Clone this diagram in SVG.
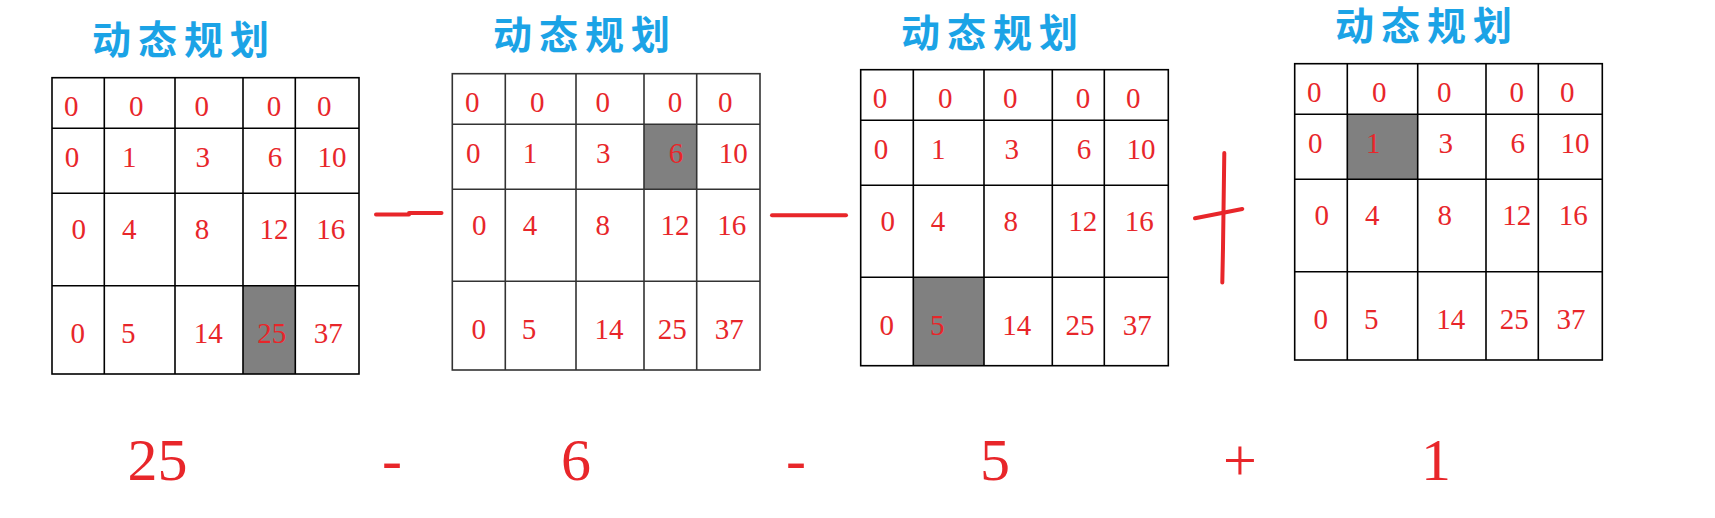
<svg xmlns="http://www.w3.org/2000/svg" width="1715" height="518" viewBox="0 0 1715 518">
<style>
.title{font-family:"Noto Sans CJK SC","Noto Sans",sans-serif;font-size:39px;fill:#1ba3e6;letter-spacing:7px;font-weight:bold}
.n{font-family:"Liberation Serif",serif;font-size:29px;fill:#e8262a;text-anchor:middle}
.big{font-family:"Liberation Serif",serif;font-size:60px;fill:#e8262a;text-anchor:middle}
.grid{fill:none;stroke:#000;stroke-width:1.6}
.grid2{fill:none;stroke:#333;stroke-width:1.6}
.hl{fill:#808080}
.op{fill:none;stroke:#e8262a;stroke-width:4;stroke-linecap:round;stroke-linejoin:round}
</style>
<rect width="1715" height="518" fill="#fff"/>

<g id="grid1">
<text class="title" x="92" y="54">动态规划</text>
<rect class="hl" x="243" y="285.7" width="52.3" height="88.3"/>
<rect class="grid" x="52" y="77.7" width="307" height="296.3"/>
<path class="grid" d="M104.3,77.7V374M175,77.7V374M243,77.7V374M295.3,77.7V374M52,128.3H359M52,193.3H359M52,285.7H359"/>
<text class="n" x="71.3" y="116">0</text><text class="n" x="136.3" y="116">0</text><text class="n" x="201.7" y="116">0</text><text class="n" x="274" y="116">0</text><text class="n" x="324.3" y="116">0</text>
<text class="n" x="72" y="166.7">0</text><text class="n" x="129.3" y="166.7">1</text><text class="n" x="202.7" y="166.7">3</text><text class="n" x="275" y="166.7">6</text><text class="n" x="332" y="166.7">10</text>
<text class="n" x="78.7" y="239.3">0</text><text class="n" x="129.3" y="239.3">4</text><text class="n" x="202" y="239.3">8</text><text class="n" x="274" y="239.3">12</text><text class="n" x="330.7" y="239.3">16</text>
<text class="n" x="77.7" y="343.3">0</text><text class="n" x="128.3" y="343.3">5</text><text class="n" x="208.3" y="343.3">14</text><text class="n" x="271.7" y="343.3">25</text><text class="n" x="328.3" y="343.3">37</text>
</g>

<g id="grid2">
<text class="title" x="493" y="49">动态规划</text>
<rect class="hl" x="644" y="124.3" width="52.7" height="65"/>
<rect class="grid2" x="452.3" y="73.7" width="307.7" height="296.3"/>
<path class="grid2" d="M505.3,73.7V370M576,73.7V370M644,73.7V370M696.7,73.7V370M452.3,124.3H760M452.3,189.3H760M452.3,281.3H760"/>
<text class="n" x="472.3" y="112.3">0</text><text class="n" x="537.3" y="112.3">0</text><text class="n" x="602.7" y="112.3">0</text><text class="n" x="675" y="112.3">0</text><text class="n" x="725.3" y="112.3">0</text>
<text class="n" x="473.3" y="163.3">0</text><text class="n" x="530" y="163.3">1</text><text class="n" x="603.3" y="163.3">3</text><text class="n" x="676" y="163.3">6</text><text class="n" x="733.3" y="163.3">10</text>
<text class="n" x="479.3" y="235.3">0</text><text class="n" x="530" y="235.3">4</text><text class="n" x="602.7" y="235.3">8</text><text class="n" x="675" y="235.3">12</text><text class="n" x="731.7" y="235.3">16</text>
<text class="n" x="478.7" y="339.3">0</text><text class="n" x="529" y="339.3">5</text><text class="n" x="609" y="339.3">14</text><text class="n" x="672.3" y="339.3">25</text><text class="n" x="729.3" y="339.3">37</text>
</g>

<g id="grid3">
<text class="title" x="901" y="47">动态规划</text>
<rect class="hl" x="913.3" y="277.3" width="70.7" height="88.4"/>
<rect class="grid" x="860.7" y="69.7" width="307.6" height="296"/>
<path class="grid" d="M913.3,69.7V365.7M984,69.7V365.7M1052.3,69.7V365.7M1104.3,69.7V365.7M860.7,120.3H1168.3M860.7,185.3H1168.3M860.7,277.3H1168.3"/>
<text class="n" x="880" y="107.7">0</text><text class="n" x="945.3" y="107.7">0</text><text class="n" x="1010.3" y="107.7">0</text><text class="n" x="1083" y="107.7">0</text><text class="n" x="1133.3" y="107.7">0</text>
<text class="n" x="881" y="159">0</text><text class="n" x="938.3" y="159">1</text><text class="n" x="1011.7" y="159">3</text><text class="n" x="1084" y="159">6</text><text class="n" x="1141" y="159">10</text>
<text class="n" x="887.7" y="230.7">0</text><text class="n" x="938" y="230.7">4</text><text class="n" x="1010.7" y="230.7">8</text><text class="n" x="1082.7" y="230.7">12</text><text class="n" x="1139.3" y="230.7">16</text>
<text class="n" x="886.7" y="335">0</text><text class="n" x="937.3" y="335">5</text><text class="n" x="1016.7" y="335">14</text><text class="n" x="1080" y="335">25</text><text class="n" x="1137.3" y="335">37</text>
</g>

<g id="grid4">
<text class="title" x="1335" y="40">动态规划</text>
<rect class="hl" x="1347.3" y="114.3" width="70.4" height="65"/>
<rect class="grid" x="1294.7" y="63.7" width="307.6" height="296.3"/>
<path class="grid" d="M1347.3,63.7V360M1417.7,63.7V360M1486,63.7V360M1538.3,63.7V360M1294.7,114.3H1602.3M1294.7,179.3H1602.3M1294.7,271.7H1602.3"/>
<text class="n" x="1314.3" y="101.7">0</text><text class="n" x="1379.3" y="101.7">0</text><text class="n" x="1444.3" y="101.7">0</text><text class="n" x="1516.7" y="101.7">0</text><text class="n" x="1567.3" y="101.7">0</text>
<text class="n" x="1315.3" y="152.7">0</text><text class="n" x="1373.3" y="152.7">1</text><text class="n" x="1445.7" y="152.7">3</text><text class="n" x="1517.7" y="152.7">6</text><text class="n" x="1575" y="152.7">10</text>
<text class="n" x="1321.7" y="225">0</text><text class="n" x="1372.3" y="225">4</text><text class="n" x="1444.7" y="225">8</text><text class="n" x="1516.7" y="225">12</text><text class="n" x="1573.3" y="225">16</text>
<text class="n" x="1320.7" y="329">0</text><text class="n" x="1371.3" y="329">5</text><text class="n" x="1450.7" y="329">14</text><text class="n" x="1514.3" y="329">25</text><text class="n" x="1571" y="329">37</text>
</g>

<g id="connectors">
<path class="op" d="M376,214.5L409,214.5L409,213L441.5,213"/>
<path class="op" d="M772,215.3L846,215.3"/>
<path class="op" d="M1224.3,153L1223,248L1222.3,282.5"/>
<path class="op" d="M1195,218.3L1242.3,209"/>
</g>

<g id="equation">
<text class="big" x="157.5" y="480">25</text>
<text class="big" x="392" y="480">-</text>
<text class="big" x="576" y="480">6</text>
<text class="big" x="796" y="480">-</text>
<text class="big" x="995" y="480">5</text>
<text class="big" x="1240" y="480">+</text>
<text class="big" x="1436" y="480">1</text>
</g>
</svg>
